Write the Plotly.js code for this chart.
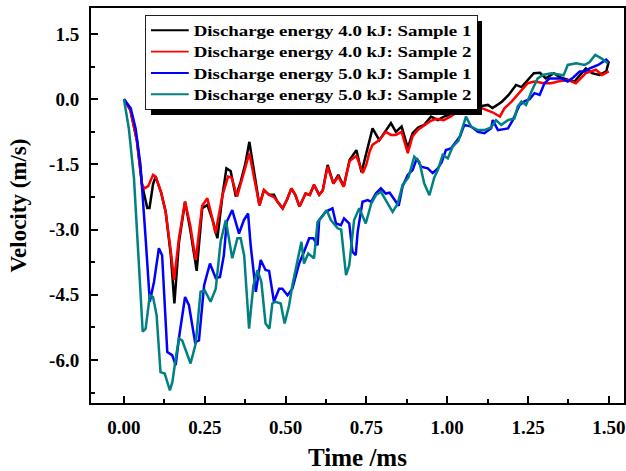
<!DOCTYPE html>
<html>
<head>
<meta charset="utf-8">
<script src="https://cdn.plot.ly/plotly-3.0.1.min.js"></script>
<style>html,body{margin:0;padding:0;background:#fff;}#chart{width:626px;height:471px;}</style>
</head>
<body>
<div id="chart"></div>
<script>
// ---- data ----
const seriesNames = [
  "Discharge energy 4.0 kJ: Sample 1",
  "Discharge energy 4.0 kJ: Sample 2",
  "Discharge energy 5.0 kJ: Sample 1",
  "Discharge energy 5.0 kJ: Sample 2"
];
const seriesColors = ["#000000", "#ff0000", "#0000ff", "#008080"];

const t_e4s1 = [0, 0.02, 0.04, 0.056, 0.072, 0.079, 0.090, 0.098, 0.115, 0.129, 0.145, 0.156, 0.170, 0.189, 0.205, 0.225, 0.242, 0.258, 0.275, 0.289, 0.305, 0.317, 0.330, 0.346, 0.361, 0.375, 0.388, 0.405, 0.419, 0.433, 0.449, 0.464, 0.475, 0.491, 0.505, 0.518, 0.530, 0.543, 0.562, 0.575, 0.588, 0.604, 0.615, 0.630, 0.648, 0.663, 0.680, 0.698, 0.719, 0.735, 0.745, 0.758, 0.769, 0.790, 0.810, 0.826, 0.841, 0.859, 0.878, 0.893, 0.910, 0.929, 0.950, 0.971, 0.990, 1.010, 1.030, 1.050, 1.070, 1.095, 1.126, 1.140, 1.155, 1.170, 1.190, 1.213, 1.230, 1.250, 1.268, 1.287, 1.305, 1.330, 1.350, 1.373, 1.394, 1.410, 1.429, 1.448, 1.471, 1.492, 1.500];
const v_e4s1 = [0, -0.25, -0.95, -1.97, -2.50, -2.50, -1.95, -1.78, -2.15, -2.59, -3.60, -4.70, -3.30, -2.36, -3.00, -3.95, -2.51, -2.43, -2.80, -3.20, -2.20, -1.59, -1.65, -2.24, -1.90, -1.50, -0.98, -1.80, -2.44, -2.09, -2.20, -2.20, -2.36, -2.51, -2.30, -2.05, -2.20, -2.47, -2.17, -2.20, -1.97, -2.20, -2.10, -1.51, -1.94, -1.74, -2.01, -1.40, -1.17, -1.68, -1.40, -1.00, -0.67, -0.94, -0.71, -0.55, -0.75, -0.63, -1.12, -0.78, -0.65, -0.59, -0.40, -0.48, -0.40, -0.35, -0.30, -0.32, -0.25, -0.17, -0.13, -0.20, -0.13, -0.05, 0.10, 0.33, 0.28, 0.45, 0.60, 0.61, 0.48, 0.60, 0.50, 0.45, 0.41, 0.55, 0.71, 0.60, 0.56, 0.64, 0.87];

const t_e4s2 = [0, 0.02, 0.04, 0.056, 0.064, 0.075, 0.090, 0.098, 0.115, 0.129, 0.145, 0.155, 0.170, 0.189, 0.205, 0.222, 0.242, 0.258, 0.272, 0.283, 0.305, 0.322, 0.333, 0.350, 0.361, 0.375, 0.388, 0.405, 0.419, 0.433, 0.449, 0.464, 0.475, 0.491, 0.505, 0.518, 0.530, 0.543, 0.562, 0.575, 0.588, 0.604, 0.615, 0.630, 0.648, 0.663, 0.680, 0.698, 0.719, 0.739, 0.750, 0.760, 0.769, 0.790, 0.810, 0.826, 0.841, 0.859, 0.878, 0.893, 0.910, 0.929, 0.946, 0.965, 0.989, 1.010, 1.030, 1.050, 1.070, 1.095, 1.120, 1.140, 1.163, 1.177, 1.200, 1.229, 1.249, 1.270, 1.300, 1.322, 1.342, 1.373, 1.398, 1.429, 1.460, 1.479, 1.492, 1.500];
const v_e4s2 = [0, -0.25, -0.95, -1.97, -2.05, -2.00, -1.74, -1.78, -2.15, -2.59, -3.50, -4.16, -3.20, -2.36, -2.90, -3.70, -2.45, -2.28, -2.70, -3.09, -2.20, -1.78, -1.80, -2.24, -1.95, -1.60, -1.24, -1.90, -2.44, -2.09, -2.20, -2.25, -2.36, -2.51, -2.30, -2.05, -2.20, -2.47, -2.17, -2.20, -1.97, -2.20, -2.10, -1.55, -1.94, -1.78, -2.01, -1.42, -1.30, -1.70, -1.50, -1.20, -1.05, -0.94, -0.75, -0.82, -0.82, -0.75, -1.24, -0.85, -0.70, -0.60, -0.51, -0.45, -0.48, -0.40, -0.30, -0.28, -0.25, -0.17, -0.25, -0.30, -0.40, -0.21, -0.05, 0.21, 0.37, 0.41, 0.37, 0.37, 0.41, 0.44, 0.37, 0.60, 0.68, 0.56, 0.60, 0.64];

const t_e5s1 = [0, 0.021, 0.036, 0.051, 0.067, 0.080, 0.093, 0.108, 0.118, 0.134, 0.149, 0.160, 0.170, 0.189, 0.201, 0.220, 0.232, 0.248, 0.266, 0.284, 0.297, 0.309, 0.318, 0.335, 0.356, 0.371, 0.384, 0.392, 0.408, 0.423, 0.438, 0.449, 0.464, 0.480, 0.490, 0.506, 0.521, 0.531, 0.542, 0.557, 0.573, 0.586, 0.599, 0.604, 0.624, 0.645, 0.656, 0.671, 0.681, 0.697, 0.707, 0.717, 0.723, 0.738, 0.754, 0.765, 0.779, 0.795, 0.810, 0.822, 0.850, 0.862, 0.878, 0.893, 0.906, 0.919, 0.940, 0.955, 0.971, 0.983, 0.996, 1.012, 1.027, 1.040, 1.053, 1.074, 1.095, 1.115, 1.136, 1.141, 1.157, 1.188, 1.203, 1.224, 1.239, 1.255, 1.270, 1.286, 1.301, 1.317, 1.353, 1.373, 1.390, 1.410, 1.425, 1.441, 1.467, 1.492, 1.500];
const v_e5s1 = [0, -0.21, -0.67, -1.51, -3.20, -4.66, -4.20, -3.43, -3.59, -5.82, -5.89, -6.12, -5.50, -4.55, -4.74, -5.59, -5.55, -4.28, -3.78, -4.12, -4.09, -3.59, -2.82, -2.55, -3.09, -2.78, -2.63, -3.36, -4.43, -3.70, -3.93, -3.95, -4.66, -4.36, -4.36, -4.51, -4.36, -4.09, -3.78, -3.51, -3.20, -3.20, -3.36, -2.78, -2.59, -2.51, -2.86, -2.90, -2.74, -2.86, -3.51, -3.59, -3.05, -2.36, -2.32, -2.36, -2.17, -2.05, -2.17, -2.15, -2.45, -2.00, -1.74, -1.63, -1.36, -1.55, -1.59, -1.70, -1.59, -1.45, -1.17, -1.13, -0.98, -0.85, -0.59, -0.63, -0.75, -0.78, -0.67, -0.48, -0.71, -0.67, -0.48, -0.13, -0.05, 0.00, 0.14, 0.10, 0.37, 0.48, 0.48, 0.41, 0.50, 0.64, 0.64, 0.71, 0.79, 0.91, 0.85];

const t_e5s2 = [0, 0.015, 0.031, 0.043, 0.058, 0.067, 0.080, 0.090, 0.101, 0.113, 0.126, 0.142, 0.150, 0.160, 0.170, 0.180, 0.206, 0.222, 0.237, 0.250, 0.268, 0.284, 0.299, 0.315, 0.335, 0.351, 0.361, 0.372, 0.387, 0.400, 0.413, 0.425, 0.438, 0.450, 0.459, 0.469, 0.485, 0.497, 0.511, 0.521, 0.537, 0.549, 0.557, 0.570, 0.588, 0.599, 0.614, 0.627, 0.640, 0.661, 0.672, 0.687, 0.697, 0.712, 0.728, 0.740, 0.748, 0.765, 0.780, 0.795, 0.810, 0.831, 0.847, 0.862, 0.880, 0.898, 0.914, 0.929, 0.945, 0.960, 0.971, 0.986, 1.002, 1.017, 1.035, 1.048, 1.058, 1.074, 1.095, 1.115, 1.136, 1.151, 1.167, 1.188, 1.208, 1.218, 1.230, 1.244, 1.262, 1.280, 1.296, 1.322, 1.348, 1.360, 1.373, 1.399, 1.425, 1.440, 1.458, 1.477, 1.497];
const v_e5s2 = [0, -0.67, -1.82, -3.36, -5.35, -5.28, -4.51, -4.55, -4.97, -6.28, -6.31, -6.70, -6.50, -5.97, -5.51, -5.55, -6.08, -5.62, -4.43, -4.40, -4.66, -4.36, -3.28, -2.78, -3.66, -3.20, -3.20, -3.60, -5.28, -4.30, -3.93, -4.20, -5.16, -5.28, -4.70, -4.66, -4.70, -5.16, -4.74, -4.28, -3.66, -3.28, -3.78, -3.55, -3.66, -2.82, -2.70, -2.55, -2.78, -2.97, -3.00, -4.05, -3.82, -2.78, -2.51, -2.70, -2.86, -2.40, -2.20, -2.13, -2.32, -2.59, -2.40, -1.97, -1.80, -1.32, -1.44, -1.94, -2.21, -1.80, -1.63, -1.28, -1.36, -1.09, -0.95, -0.63, -0.40, -0.63, -0.71, -0.71, -0.65, -0.48, -0.59, -0.48, -0.44, -0.17, -0.05, -0.13, 0.20, 0.48, 0.56, 0.60, 0.56, 0.55, 0.79, 0.83, 0.79, 0.85, 1.02, 0.94, 0.83];

const xTickVals = [0, 0.25, 0.5, 0.75, 1.0, 1.25, 1.5];
const yTickVals = [-6.0, -4.5, -3.0, -1.5, 0.0, 1.5];
const xTitle = "Time /ms";
const yTitle = "Velocity (m/s)";

// ---- build ----
const xs = [t_e4s1, t_e4s2, t_e5s1, t_e5s2];
const ys = [v_e4s1, v_e4s2, v_e5s1, v_e5s2];
const traces = xs.map((x, i) => ({
  x: x, y: ys[i], type: "scatter", mode: "lines",
  name: seriesNames[i],
  line: {color: seriesColors[i], width: 2.5, shape: "linear"}
}));

const serif = "'Liberation Serif', 'Times New Roman', serif";
const axisCommon = {
  showline: true, linecolor: "#000", linewidth: 2, mirror: true,
  ticks: "inside", ticklen: 7, tickwidth: 2, tickcolor: "#000",
  showgrid: false, zeroline: false,
  tickfont: {family: serif, size: 19, color: "#000", weight: "bold"}
};

const layout = {
  width: 626, height: 471,
  margin: {l: 91, r: 2, t: 8, b: 68},
  paper_bgcolor: "#fff", plot_bgcolor: "#fff",
  showlegend: true,
  legend: {
    x: 0.0996, y: 0.9823, xanchor: "left", yanchor: "top",
    bgcolor: "#fff", bordercolor: "#000", borderwidth: 1,
    font: {family: serif, size: 19, color: "#000", weight: "bold"},
    itemwidth: 38,
    tracegroupgap: 0
  },
  xaxis: Object.assign({}, axisCommon, {
    range: [-0.102, 1.547],
    tickmode: "array", tickvals: xTickVals,
    ticktext: xTickVals.map(v => v.toFixed(2)),
    ticklabelstandoff: 6,
    minor: {tick0: 0, dtick: 0.125, ticks: "inside", ticklen: 4, tickwidth: 2, tickcolor: "#000", showgrid: false},
    title: {text: xTitle, font: {family: serif, size: 25, color: "#000", weight: "bold"}, standoff: 18}
  }),
  yaxis: Object.assign({}, axisCommon, {
    range: [-6.99, 2.10],
    tickmode: "array", tickvals: yTickVals,
    ticktext: yTickVals.map(v => v.toFixed(1)),
    ticklabelstandoff: 6,
    minor: {tick0: 0, dtick: 0.75, ticks: "inside", ticklen: 4, tickwidth: 2, tickcolor: "#000", showgrid: false},
    title: {text: yTitle, font: {family: serif, size: 23, color: "#000", weight: "bold"}, standoff: 16}
  }),
  shapes: [{
    type: "rect", xref: "paper", yref: "paper", layer: "above",
    x0: 0.1126, x1: 0.7336, y0: 0.729, y1: 0.967,
    fillcolor: "#000", line: {width: 0}
  }]
};

Plotly.newPlot("chart", traces, layout, {staticPlot: true, displayModeBar: false}).then(function (gd) {
  // fit the legend box to the reference box (145,15)-(477,109)
  const leg = gd.querySelector(".infolayer .legend");
  const bg = leg && leg.querySelector("rect.bg");
  if (leg && bg) {
    const w = parseFloat(bg.getAttribute("width"));
    const h = parseFloat(bg.getAttribute("height"));
    const sx = 332 / w, sy = 94 / h;
    leg.setAttribute("transform", "translate(145,15) scale(" + sx.toFixed(4) + "," + sy.toFixed(4) + ")");
  }
});
</script>
</body>
</html>
